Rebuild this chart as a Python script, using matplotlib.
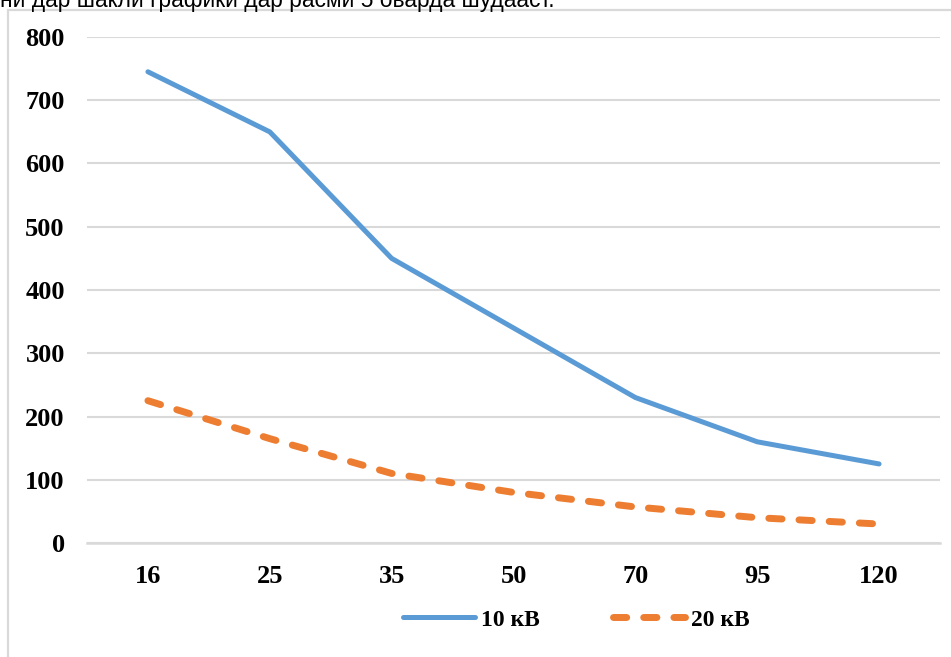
import matplotlib
matplotlib.use("Agg")
import matplotlib.pyplot as plt
from matplotlib.patches import Rectangle

sections = ["16", "25", "35", "50", "70", "95", "120"]
loss_10kv = [745, 650, 450, 340, 230, 160, 125]
loss_20kv = [225, 165, 110, 80, 57, 40, 30]
series_names = ["10 кВ", "20 кВ"]
y_ticks = [0, 100, 200, 300, 400, 500, 600, 700, 800]
caption = "ни дар шакли графики дар расми 5 оварда шудааст."

grid_col = "#d9d9d9"
blue = "#5b9bd5"
orange = "#ed7d31"

fig = plt.figure(figsize=(9.51, 6.57), dpi=100)

# cut-off line of the document text above the chart
fig.text(0.0, 1 - 7 / 657, caption, fontsize=16.4, family="Liberation Sans",
         va="baseline", ha="left", color="black")

# chart frame
fig.patches.append(Rectangle((8 / 951, -0.05), 1.0, 1 - 10 / 657 + 0.05,
                             transform=fig.transFigure, fill=False,
                             edgecolor=grid_col, linewidth=1.6))

ax = fig.add_axes([87 / 951, 1 - 543 / 657, (940 - 87) / 951, (543 - 37) / 657])
x = list(range(len(sections)))

ax.plot(x, loss_10kv, color=blue, linewidth=3.6, solid_capstyle="round",
        label=series_names[0], zorder=3)
ax.plot(x, loss_20kv, color=orange, linewidth=5, linestyle=(0, (1.9, 2.45)),
        dash_capstyle="round", label=series_names[1], zorder=3)

ax.set_xlim(-0.5, len(sections) - 0.5)
ax.set_ylim(0, 800)
ax.set_yticks(y_ticks)
ax.set_xticks(x)
ax.set_xticklabels(sections)
ax.grid(axis="y", color=grid_col, linewidth=1.5)
ax.set_axisbelow(True)
for s in ["top", "right", "left"]:
    ax.spines[s].set_visible(False)
ax.spines["bottom"].set_color(grid_col)
ax.spines["bottom"].set_linewidth(1.8)
ax.tick_params(length=0)
ax.tick_params(axis="y", pad=16)
ax.tick_params(axis="x", pad=16)
for lab in ax.get_xticklabels() + ax.get_yticklabels():
    lab.set_family("Liberation Serif")
    lab.set_fontweight("bold")
    lab.set_fontsize(19)

fig.legend(loc="center", bbox_to_anchor=(576 / 951, 1 - 620 / 657), ncol=2,
           frameon=False, handlelength=3.05, handletextpad=0.25,
           columnspacing=3.1,
           prop={"family": "Liberation Serif", "weight": "bold", "size": 17})

fig.savefig("out.png", dpi=100)
